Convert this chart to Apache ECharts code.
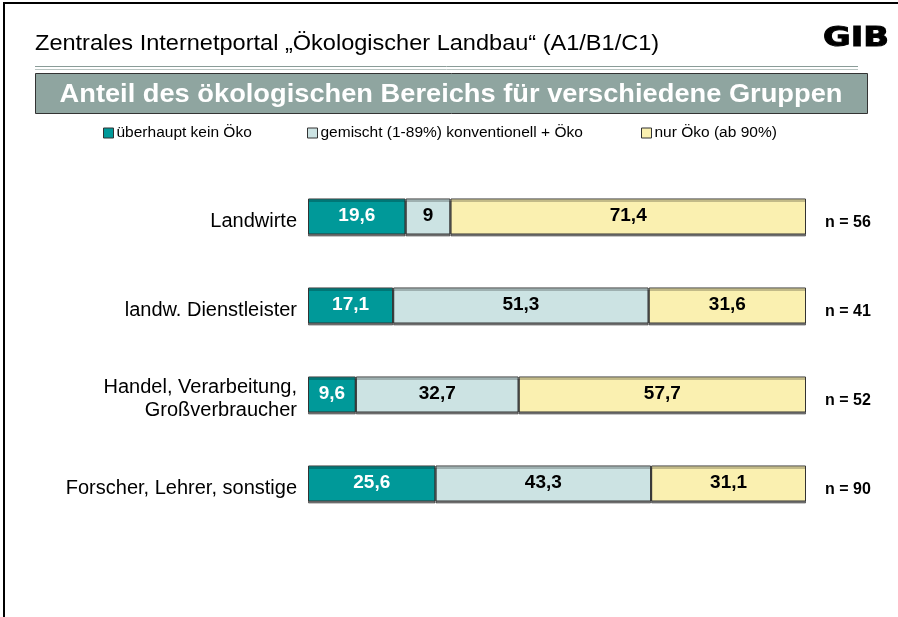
<!DOCTYPE html>
<html><head><meta charset="utf-8">
<script src="https://cdn.jsdelivr.net/npm/echarts@6/dist/echarts.min.js"></script>
<style>html,body{margin:0;padding:0;background:#fff}#c{width:898px;height:617px}</style>
</head><body><div id="c"></div>
<script>
const categories = ['Landwirte', 'landw. Dienstleister', 'Handel, Verarbeitung,\nGroßverbraucher', 'Forscher, Lehrer, sonstige'];
const nLabels = ['n = 56', 'n = 41', 'n = 52', 'n = 90'];
const seriesNames = ['überhaupt kein Öko', 'gemischt (1-89%) konventionell + Öko', 'nur Öko (ab 90%)'];
const keinOeko = [19.6, 17.1, 9.6, 25.6];
const gemischt = [9, 51.3, 32.7, 43.3];
const nurOeko = [71.4, 31.6, 57.7, 31.1];
const colors = ['#009999', '#CCE3E3', '#FAF0B0'];
const labelColors = ['#ffffff', '#000000', '#000000'];
const FONT = 'Liberation Sans, Arial, sans-serif';

const chart = echarts.init(document.getElementById('c'), null, {renderer: 'canvas'});
const values = [keinOeko, gemischt, nurOeko];
const series = values.map((v, i) => ({
  name: seriesNames[i], type: 'bar', stack: 'all', data: v, barWidth: 36,
  itemStyle: {color: colors[i], borderColor: '#333', borderWidth: 1, shadowColor: 'rgba(0,0,0,0.45)', shadowOffsetY: 2, shadowOffsetX: 0, shadowBlur: 0},
  label: {show: true, position: 'inside', offset: [0, -1], color: labelColors[i], fontFamily: FONT, fontWeight: 'bold', fontSize: 19,
    formatter: p => String(p.value).replace('.', ',')},
  emphasis: {disabled: true}
}));
const legendX = [103, 307, 641];
chart.setOption({
  animation: false,
  grid: {left: 308, top: 172, width: 498, height: 356},
  legend: seriesNames.map((n, i) => ({data: [n], left: legendX[i] - 5, top: 120, itemWidth: 10, itemHeight: 10, icon: 'rect', itemStyle: {borderColor: '#333', borderWidth: 1},
    textStyle: {fontFamily: FONT, fontSize: 15.5, color: '#000', padding: [0, 0, 0, -2]}, selectedMode: false})),
  xAxis: {type: 'value', min: 0, max: 100, show: false},
  yAxis: [
    {type: 'category', inverse: true, data: categories, axisLine: {show: false}, axisTick: {show: false},
      axisLabel: {color: '#000', margin: 11, align: 'right',
        formatter: v => '{sp| }\n' + v.split('\n').map(l => '{n|' + l + '}').join('\n'),
        rich: {
          sp: {fontSize: 1, lineHeight: 9},
          n: {fontFamily: FONT, fontSize: 20, color: '#000', lineHeight: 23, align: 'right'}
        }}},
    {type: 'category', inverse: true, position: 'right', data: nLabels, axisLine: {show: false}, axisTick: {show: false},
      axisLabel: {color: '#000', margin: 19, align: 'left', formatter: v => '{p|' + v + '}',
        rich: {p: {fontFamily: FONT, fontSize: 16, fontWeight: 'bold', color: '#000', padding: [12, 0, 0, 0]}}}}
  ],
  series: series,
  graphic: [
    {type: 'rect', shape: {x: 4, y: 3, width: 1200, height: 1200}, style: {fill: 'none', stroke: '#000', lineWidth: 2}, silent: true},
    {type: 'text', x: 35, y: 44, scaleX: 1.07, style: {text: 'Zentrales Internetportal „Ökologischer Landbau“ (A1/B1/C1)', font: '22px ' + FONT, fill: '#000', verticalAlign: 'middle'}},
    {type: 'text', x: 823, y: 39, scaleX: 1.25, style: {text: 'GIB', font: 'bold 27px "DejaVu Sans", sans-serif', fill: '#000', stroke: '#000', lineWidth: 1, verticalAlign: 'middle'}},
    {type: 'line', shape: {x1: 35, y1: 66.5, x2: 858, y2: 66.5}, style: {stroke: '#8A9C98', lineWidth: 1}},
    {type: 'line', shape: {x1: 35, y1: 69.5, x2: 858, y2: 69.5}, style: {stroke: '#B8C4C1', lineWidth: 1}},
    {type: 'rect', shape: {x: 35.5, y: 73.5, width: 832, height: 40}, style: {fill: '#8FA5A0', stroke: '#333', lineWidth: 1}},
    {type: 'text', x: 451, y: 95, scaleX: 1.09, style: {text: 'Anteil des ökologischen Bereichs für verschiedene Gruppen', font: 'bold 25px ' + FONT, fill: '#fff', align: 'center', verticalAlign: 'middle'}}
  ]
});
</script></body></html>
